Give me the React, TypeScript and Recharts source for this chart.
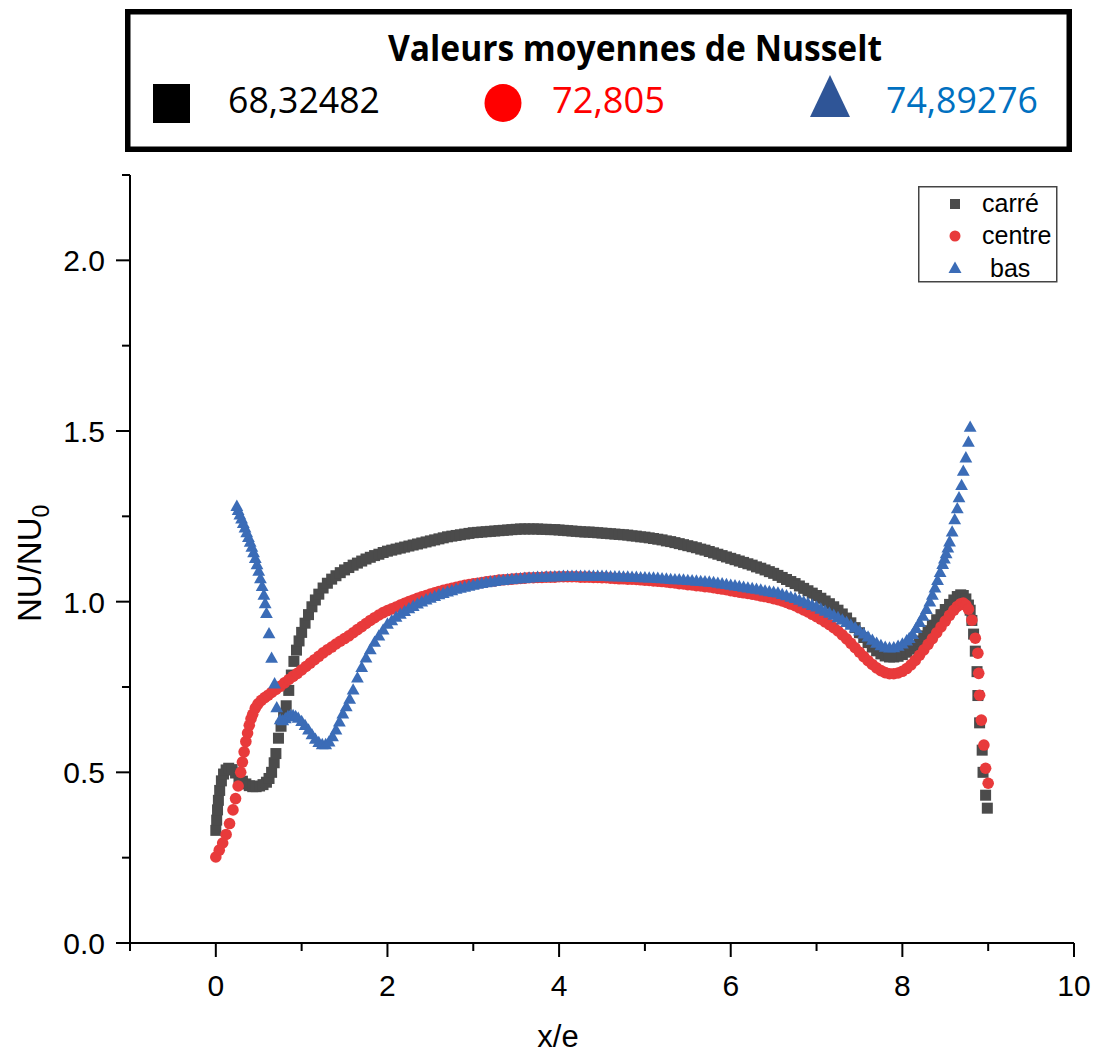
import React from 'react';
import { ScatterChart, Scatter, XAxis, YAxis, Legend } from 'recharts';

// ---------- data ----------
const seriesNames = ['carré', 'centre', 'bas'];
const meanTitle = 'Valeurs moyennes de Nusselt';
const meanValues = ['68,32482', '72,805', '74,89276'];
const xTicks = [-1, 0, 1, 2, 3, 4, 5, 6, 7, 8, 9, 10];
const yTicks = [0, 0.25, 0.5, 0.75, 1, 1.25, 1.5, 1.75, 2, 2.25];

const carre: number[][] = [
  [0.000,0.330],[0.010,0.360],[0.020,0.390],[0.030,0.418],[0.045,0.447],[0.065,0.475],[0.090,0.495],[0.120,0.507],
  [0.150,0.512],[0.190,0.508],[0.230,0.498],[0.270,0.485],[0.310,0.474],[0.350,0.466],[0.390,0.461],[0.430,0.458],
  [0.470,0.458],[0.510,0.460],[0.550,0.464],[0.590,0.471],[0.620,0.482],[0.650,0.500],[0.680,0.528],[0.700,0.555],
  [0.730,0.600],[0.760,0.635],[0.790,0.665],[0.820,0.695],[0.850,0.740],[0.880,0.785],[0.910,0.825],[0.940,0.858],
  [0.970,0.885],[1.000,0.910],[1.040,0.937],[1.080,0.962],[1.120,0.985],[1.160,1.005],[1.200,1.022],[1.250,1.040],
  [1.300,1.054],[1.350,1.066],[1.400,1.076],[1.450,1.085],[1.500,1.093],[1.550,1.100],[1.600,1.107],[1.650,1.113],
  [1.700,1.119],[1.750,1.125],[1.800,1.130],[1.850,1.135],[1.900,1.139],[1.950,1.144],
  [2.00,1.148],[2.05,1.151],[2.10,1.154],[2.15,1.157],[2.20,1.160],[2.25,1.163],[2.30,1.166],[2.35,1.169],
  [2.40,1.172],[2.45,1.175],[2.50,1.178],[2.55,1.181],[2.60,1.184],[2.65,1.187],[2.70,1.190],[2.75,1.192],
  [2.80,1.194],[2.85,1.196],[2.90,1.198],[2.95,1.200],[3.00,1.202],[3.05,1.203],[3.10,1.204],[3.15,1.205],
  [3.20,1.206],[3.25,1.207],[3.30,1.208],[3.35,1.209],[3.40,1.210],[3.45,1.211],[3.50,1.212],[3.55,1.213],
  [3.60,1.213],[3.65,1.213],[3.70,1.213],[3.75,1.213],[3.80,1.212],[3.85,1.212],[3.90,1.211],[3.95,1.211],
  [4.00,1.210],[4.05,1.209],[4.10,1.208],[4.15,1.207],[4.20,1.206],[4.25,1.205],[4.30,1.204],[4.35,1.204],
  [4.40,1.203],[4.45,1.202],[4.50,1.201],[4.55,1.200],[4.60,1.199],[4.65,1.198],[4.70,1.197],[4.75,1.196],
  [4.80,1.195],[4.85,1.193],[4.90,1.192],[4.95,1.190],[5.00,1.189],[5.05,1.187],[5.10,1.185],[5.15,1.183],
  [5.20,1.181],[5.25,1.178],[5.30,1.176],[5.35,1.173],[5.40,1.170],[5.45,1.167],[5.50,1.164],[5.55,1.161],
  [5.60,1.158],[5.65,1.154],[5.70,1.151],[5.75,1.147],[5.80,1.143],[5.85,1.139],[5.90,1.135],[5.95,1.131],
  [6.00,1.127],[6.05,1.123],[6.10,1.119],[6.15,1.115],[6.20,1.111],[6.25,1.107],[6.30,1.102],[6.35,1.098],
  [6.40,1.093],[6.45,1.088],[6.50,1.083],[6.55,1.077],[6.60,1.071],[6.65,1.065],[6.70,1.059],[6.75,1.053],
  [6.80,1.046],[6.85,1.039],[6.90,1.032],[6.95,1.025],[7.00,1.018],[7.05,1.010],[7.10,1.002],[7.15,0.994],
  [7.20,0.985],[7.25,0.975],[7.30,0.964],[7.35,0.952],[7.40,0.938],[7.45,0.924],[7.50,0.909],[7.55,0.895],
  [7.60,0.880],[7.65,0.867],[7.70,0.856],[7.75,0.847],[7.80,0.841],[7.85,0.838],[7.90,0.838],[7.95,0.840],
  [8.00,0.845],[8.05,0.852],[8.10,0.861],[8.15,0.872],[8.20,0.885],[8.25,0.900],[8.30,0.915],[8.35,0.931],
  [8.40,0.947],[8.45,0.962],[8.50,0.977],[8.55,0.992],[8.60,1.005],
  [8.64,1.015],[8.68,1.020],[8.71,1.018],[8.74,1.008],[8.77,0.990],[8.79,0.975],[8.81,0.945],[8.83,0.905],
  [8.85,0.855],[8.87,0.795],[8.88,0.725],[8.90,0.645],[8.93,0.565],[8.94,0.500],[8.97,0.433],[8.99,0.395],
];

const centre: number[][] = [
  [0.00,0.252],[0.04,0.272],[0.08,0.293],[0.12,0.318],[0.16,0.350],[0.20,0.390],[0.23,0.423],[0.26,0.460],
  [0.29,0.500],[0.31,0.530],[0.33,0.560],[0.35,0.590],[0.37,0.615],[0.39,0.638],[0.41,0.657],[0.43,0.670],
  [0.46,0.688],[0.49,0.700],[0.53,0.711],[0.57,0.719],[0.61,0.726],[0.65,0.734],[0.70,0.743],[0.75,0.752],
  [0.80,0.762],[0.85,0.772],[0.90,0.781],[0.95,0.790],[1.00,0.800],[1.05,0.810],[1.10,0.820],[1.15,0.830],
  [1.20,0.840],[1.25,0.850],[1.30,0.859],[1.35,0.867],[1.40,0.876],[1.45,0.884],[1.50,0.892],[1.55,0.900],
  [1.60,0.909],[1.65,0.918],[1.70,0.927],[1.75,0.936],[1.80,0.945],[1.85,0.953],[1.90,0.961],[1.95,0.968],
  [2.00,0.974],[2.05,0.979],[2.10,0.984],[2.15,0.990],[2.20,0.995],[2.25,1.000],[2.30,1.005],[2.35,1.010],
  [2.40,1.014],[2.45,1.018],[2.50,1.022],[2.55,1.026],[2.60,1.030],[2.65,1.033],[2.70,1.036],[2.75,1.039],
  [2.80,1.042],[2.85,1.045],[2.90,1.048],[2.95,1.050],[3.00,1.052],[3.05,1.054],[3.10,1.056],[3.15,1.058],
  [3.20,1.060],[3.25,1.061],[3.30,1.063],[3.35,1.064],[3.40,1.065],[3.45,1.066],[3.50,1.067],[3.55,1.068],
  [3.60,1.069],[3.65,1.070],[3.70,1.070],[3.75,1.071],[3.80,1.071],[3.85,1.072],[3.90,1.072],[3.95,1.072],
  [4.00,1.073],[4.05,1.073],[4.10,1.073],[4.15,1.073],[4.20,1.073],[4.25,1.072],[4.30,1.072],[4.35,1.072],
  [4.40,1.071],[4.45,1.071],[4.50,1.070],[4.55,1.070],[4.60,1.069],[4.65,1.068],[4.70,1.067],[4.75,1.067],
  [4.80,1.066],[4.85,1.066],[4.90,1.065],[4.95,1.064],[5.00,1.063],[5.05,1.062],[5.10,1.061],[5.15,1.060],
  [5.20,1.059],[5.25,1.058],[5.30,1.056],[5.35,1.055],[5.40,1.053],[5.45,1.052],[5.50,1.050],[5.55,1.049],
  [5.60,1.047],[5.65,1.046],[5.70,1.044],[5.75,1.043],[5.80,1.041],[5.85,1.039],[5.90,1.037],[5.95,1.035],
  [6.00,1.032],[6.05,1.030],[6.10,1.028],[6.15,1.026],[6.20,1.024],[6.25,1.022],[6.30,1.020],[6.35,1.017],
  [6.40,1.015],[6.45,1.012],[6.50,1.009],[6.55,1.006],[6.60,1.002],[6.65,0.998],[6.70,0.993],[6.75,0.988],
  [6.80,0.982],[6.85,0.976],[6.90,0.970],[6.95,0.963],[7.00,0.956],[7.05,0.949],[7.10,0.941],[7.15,0.933],
  [7.20,0.924],[7.25,0.914],[7.30,0.903],[7.35,0.891],[7.40,0.878],[7.45,0.865],[7.50,0.852],[7.55,0.839],
  [7.60,0.827],[7.65,0.816],[7.70,0.806],[7.75,0.798],[7.80,0.792],[7.85,0.789],[7.90,0.789],[7.95,0.791],
  [8.00,0.796],[8.05,0.804],[8.10,0.815],[8.15,0.828],[8.20,0.843],[8.25,0.859],[8.30,0.875],[8.35,0.892],
  [8.40,0.909],[8.45,0.926],[8.50,0.943],[8.55,0.960],[8.60,0.975],[8.64,0.986],[8.68,0.994],[8.71,0.996],
  [8.74,0.990],[8.77,0.978],[8.81,0.946],[8.85,0.893],[8.88,0.849],[8.89,0.790],[8.90,0.726],[8.92,0.653],
  [8.95,0.580],[8.97,0.512],[9.00,0.468],
];

const bas: number[][] = [
  [0.245,1.280],[0.26,1.268],[0.28,1.255],[0.30,1.243],[0.32,1.230],[0.34,1.217],[0.36,1.203],[0.38,1.189],
  [0.40,1.175],[0.42,1.160],[0.44,1.144],[0.46,1.127],[0.48,1.109],[0.50,1.090],[0.52,1.068],[0.54,1.045],
  [0.56,1.020],[0.575,0.995],[0.59,0.966],[0.62,0.907],[0.65,0.835],[0.685,0.760],[0.71,0.690],[0.75,0.655],
  [0.78,0.652],[0.81,0.658],[0.84,0.664],[0.87,0.667],[0.90,0.667],[0.93,0.664],[0.96,0.659],[1.00,0.650],
  [1.04,0.638],[1.08,0.625],[1.12,0.611],[1.16,0.598],[1.20,0.588],[1.24,0.582],[1.28,0.582],[1.32,0.590],
  [1.36,0.605],[1.40,0.625],[1.44,0.648],[1.48,0.672],[1.52,0.693],[1.56,0.715],[1.60,0.742],[1.65,0.777],
  [1.70,0.808],[1.75,0.836],[1.80,0.860],[1.85,0.882],[1.90,0.900],[1.95,0.918],
  [2.00,0.935],[2.05,0.945],[2.10,0.955],[2.15,0.964],[2.20,0.972],[2.25,0.980],[2.30,0.987],[2.35,0.994],
  [2.40,1.000],[2.45,1.006],[2.50,1.011],[2.55,1.016],[2.60,1.021],[2.65,1.025],[2.70,1.029],[2.75,1.033],
  [2.80,1.037],[2.85,1.040],[2.90,1.043],[2.95,1.046],[3.00,1.049],[3.05,1.052],[3.10,1.054],[3.15,1.056],
  [3.20,1.058],[3.25,1.060],[3.30,1.062],[3.35,1.063],[3.40,1.065],[3.45,1.066],[3.50,1.067],[3.55,1.068],
  [3.60,1.069],[3.65,1.070],[3.70,1.071],[3.75,1.072],[3.80,1.072],[3.85,1.073],[3.90,1.073],[3.95,1.074],
  [4.00,1.074],[4.05,1.075],[4.10,1.075],[4.15,1.075],[4.20,1.075],[4.25,1.075],[4.30,1.075],[4.35,1.075],
  [4.40,1.075],[4.45,1.075],[4.50,1.075],[4.55,1.075],[4.60,1.074],[4.65,1.074],[4.70,1.074],[4.75,1.073],
  [4.80,1.073],[4.85,1.072],[4.90,1.072],[4.95,1.071],[5.00,1.071],[5.05,1.070],[5.10,1.070],[5.15,1.069],
  [5.20,1.068],[5.25,1.067],[5.30,1.066],[5.35,1.065],[5.40,1.065],[5.45,1.064],[5.50,1.063],[5.55,1.062],
  [5.60,1.061],[5.65,1.060],[5.70,1.059],[5.75,1.058],[5.80,1.057],[5.85,1.055],[5.90,1.053],[5.95,1.051],
  [6.00,1.049],[6.05,1.047],[6.10,1.045],[6.15,1.043],[6.20,1.041],[6.25,1.039],[6.30,1.037],[6.35,1.035],
  [6.40,1.032],[6.45,1.030],[6.50,1.028],[6.55,1.026],[6.60,1.022],[6.65,1.018],[6.70,1.014],[6.75,1.010],
  [6.80,1.005],[6.85,1.000],[6.90,0.995],[6.95,0.990],[7.00,0.985],[7.05,0.979],[7.10,0.973],[7.15,0.967],
  [7.20,0.961],[7.25,0.954],[7.30,0.947],[7.35,0.940],[7.40,0.932],[7.45,0.924],[7.50,0.915],[7.55,0.906],
  [7.60,0.897],[7.65,0.888],[7.70,0.879],[7.75,0.872],[7.80,0.867],[7.85,0.865],[7.90,0.866],[7.95,0.870],
  [8.00,0.877],[8.05,0.886],[8.08,0.893],[8.12,0.905],[8.16,0.922],[8.20,0.940],[8.24,0.958],[8.28,0.978],
  [8.32,1.000],[8.35,1.020],[8.38,1.041],[8.41,1.063],[8.44,1.086],[8.47,1.110],[8.49,1.126],[8.51,1.141],
  [8.53,1.158],[8.55,1.176],[8.58,1.205],[8.61,1.241],[8.64,1.273],[8.66,1.305],[8.69,1.341],[8.71,1.383],
  [8.74,1.422],[8.77,1.468],[8.79,1.512],
];

// ---------- styles ----------
const COLORS = { carre: '#4b4b4b', centre: '#e83a3b', bas: '#3b6cb7' };
const AXIS_FONT = "'Liberation Sans', Arial, Helvetica, sans-serif";
const BOX_FONT = "'Open Sans', 'Liberation Sans', sans-serif";

const toPoints = (pairs: number[][]) => pairs.map(([x, y]) => ({ x, y }));
const carreData = toPoints(carre);
const centreData = toPoints(centre);
const basData = toPoints(bas);

const SquareShape = (p: any) => (
  <rect x={p.cx - 5.5} y={p.cy - 5.5} width={11} height={11} fill={COLORS.carre} />
);
const CircleShape = (p: any) => <circle cx={p.cx} cy={p.cy} r={5.8} fill={COLORS.centre} />;
const TriangleShape = (p: any) => (
  <polygon
    points={`${p.cx},${p.cy - 6.5} ${p.cx - 6.4},${p.cy + 4.8} ${p.cx + 6.4},${p.cy + 4.8}`}
    fill={COLORS.bas}
  />
);

const XTick = (props: any) => {
  const { x, y, payload } = props;
  const v = payload.value as number;
  const major = Number.isInteger(v) && v % 2 === 0;
  return (
    <g>
      <line x1={x} x2={x} y1={y} y2={y + (major ? 14 : 8)} stroke="#000" strokeWidth={2} />
      {major && (
        <text x={x} y={y + 53} textAnchor="middle" fontSize={30} fontFamily={AXIS_FONT} fill="#000">
          {v}
        </text>
      )}
    </g>
  );
};

const YTick = (props: any) => {
  const { x, y, payload } = props;
  const v = payload.value as number;
  const major = Math.abs(v * 2 - Math.round(v * 2)) < 1e-6;
  return (
    <g>
      <line x1={x} x2={x - (major ? 14 : 8)} y1={y} y2={y} stroke="#000" strokeWidth={2} />
      {major && (
        <text x={x - 25} y={y + 11} textAnchor="end" fontSize={30} fontFamily={AXIS_FONT} fill="#000">
          {v.toFixed(1)}
        </text>
      )}
    </g>
  );
};

const XTitle = () => (
  <text x={558} y={1047} textAnchor="middle" fontSize={31} fontFamily={AXIS_FONT} fill="#000">
    x/e
  </text>
);

const YTitle = () => (
  <text
    x={41}
    y={622}
    transform="rotate(-90 41 622)"
    textAnchor="start"
    fontSize={33}
    fontFamily={AXIS_FONT}
    fill="#000"
  >
    NU/NU
    <tspan fontSize={23} dy={8}>
      0
    </tspan>
  </text>
);

const legendShapes = [
  (cx: number, cy: number) => <rect x={cx - 5} y={cy - 5} width={10} height={10} fill={COLORS.carre} />,
  (cx: number, cy: number) => <circle cx={cx} cy={cy} r={5.5} fill={COLORS.centre} />,
  (cx: number, cy: number) => (
    <polygon points={`${cx},${cy - 6.5} ${cx - 6.5},${cy + 5} ${cx + 6.5},${cy + 5}`} fill={COLORS.bas} />
  ),
];

const InnerLegend = () => (
  <svg width={140} height={97} style={{ display: 'block' }}>
    <rect x={0.75} y={0.75} width={138} height={95} fill="#fff" stroke="#444" strokeWidth={1.5} />
    {seriesNames.map((name, i) => (
      <g key={name}>
        {legendShapes[i](37, 18 + i * 32)}
        <text
          x={i === 2 ? 72 : 64}
          y={26 + i * 32 + (i === 2 ? 1 : 0)}
          fontSize={25}
          fontFamily={AXIS_FONT}
          fill="#000"
        >
          {name}
        </text>
      </g>
    ))}
  </svg>
);

const valueColors = ['#000000', '#ff0000', '#0070c0'];
const valueX = [228, 552, 886];
const valueLen = [152, 113, 152];

const MeanBox = () => (
  <svg
    width={1097}
    height={170}
    style={{ position: 'absolute', left: 0, top: 0, pointerEvents: 'none' }}
  >
    <rect x={127.75} y={11.75} width={941.5} height={137.5} fill="#fff" stroke="#000" strokeWidth={5.5} />
    <text
      x={388}
      y={61}
      fontSize={35}
      fontWeight={700}
      fontFamily={BOX_FONT}
      textLength={494}
      lengthAdjust="spacingAndGlyphs"
      fill="#000"
    >
      {meanTitle}
    </text>
    <rect x={153} y={84} width={37} height={39} fill="#000" />
    <ellipse cx={503} cy={103} rx={18.5} ry={19} fill="#ff0000" />
    <polygon points="830,75 810,117 850,117" fill="#2f5597" />
    {meanValues.map((v, i) => (
      <text
        key={v}
        x={valueX[i]}
        y={113}
        fontSize={37}
        fontFamily={BOX_FONT}
        textLength={valueLen[i]}
        lengthAdjust="spacingAndGlyphs"
        fill={valueColors[i]}
      >
        {v}
      </text>
    ))}
  </svg>
);

export default function App() {
  return (
    <div style={{ position: 'absolute', left: 0, top: 0, width: 1097, height: 1058, background: '#fff' }}>
      <ScatterChart
        width={1097}
        height={1058}
        margin={{ top: 175, right: 23, bottom: 55, left: 70 }}
      >
        <XAxis
          type="number"
          dataKey="x"
          domain={[-1, 10]}
          ticks={xTicks}
          interval={0}
          allowDataOverflow
          height={60}
          tickSize={0}
          tickMargin={0}
          tickLine={false}
          tick={<XTick />}
          axisLine={{ stroke: '#000', strokeWidth: 2 }}
          label={<XTitle />}
        />
        <YAxis
          type="number"
          dataKey="y"
          domain={[0, 2.25]}
          ticks={yTicks}
          interval={0}
          allowDataOverflow
          width={60}
          tickSize={0}
          tickMargin={0}
          tickLine={false}
          tick={<YTick />}
          axisLine={{ stroke: '#000', strokeWidth: 2 }}
          label={<YTitle />}
        />
        <Legend
          layout="horizontal"
          verticalAlign="middle"
          align="center"
          wrapperStyle={{ left: 918, top: 186, width: 140, height: 97, margin: 0, padding: 0 }}
          content={<InnerLegend />}
        />
        <Scatter name={seriesNames[0]} data={carreData} fill={COLORS.carre} shape={SquareShape} isAnimationActive={false} />
        <Scatter name={seriesNames[1]} data={centreData} fill={COLORS.centre} shape={CircleShape} isAnimationActive={false} />
        <Scatter name={seriesNames[2]} data={basData} fill={COLORS.bas} shape={TriangleShape} isAnimationActive={false} />
      </ScatterChart>
      <MeanBox />
    </div>
  );
}
